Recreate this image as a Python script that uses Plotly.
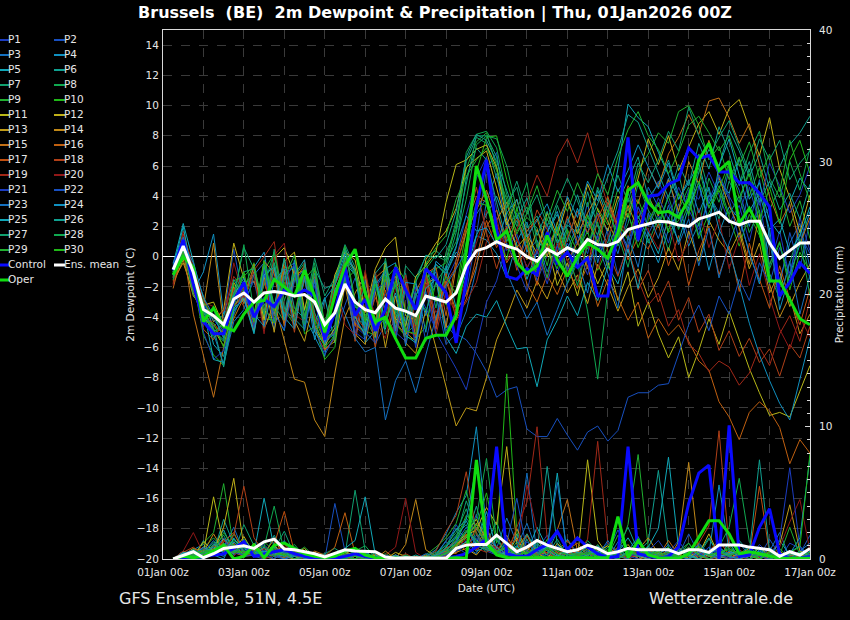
import pandas as pd
import plotly.graph_objects as go

# 6-hourly steps, 01Jan 06z .. 17Jan 00z
times = pd.date_range("2026-01-01 06:00", periods=64, freq="6h")

# ---- 2m dewpoint (deg C) ----
control_dew = [-0.9, 1.1, -1.8, -4.3, -5.1, -5.1, -2.9, -1.7,
               -4.0, -2.8, -3.3, -2.2, -2.6, -2.2, -2.6, -5.5,
               -3.7, -0.7, -3.9, -2.8, -4.9, -3.5, -0.7, -2.2,
               -3.5, -0.8, -1.5, -2.4, -5.7, -1.5, 3.3, 6.4,
               1.8, -1.3, -1.5, -0.8, -1.2, 1.6, -0.4, 0.3,
               -0.7, -0.1, -2.6, -2.6, 2.0, 7.9, 1.1, 4.0,
               4.1, 4.8, 5.1, 7.2, 6.5, 6.7, 5.6, 5.6,
               4.9, 4.9, 4.2, 3.3, -2.6, -1.7, -0.4, -1.1]
oper_dew = [-1.2, 0.0, -0.7, -4.3, -3.4, -4.6, -4.9, -3.8,
            -3.0, -2.9, -1.5, -2.0, -2.6, -0.9, -2.6, -5.0,
            -2.6, -0.6, 0.5, -2.4, -4.3, -4.0, -5.4, -6.7,
            -6.7, -5.4, -5.2, -5.2, -3.9, 0.3, 6.0, 3.8,
            1.1, 1.7, -0.4, -1.1, -0.6, 1.4, -0.2, -1.3,
            0.0, 0.9, 0.5, -0.1, 1.6, 4.4, 4.9, 3.6,
            2.9, 3.0, 2.6, 3.8, 6.4, 7.5, 5.7, 6.3,
            2.2, 3.2, 1.9, -1.6, -1.6, -2.8, -4.1, -4.5]
mean_dew = [-0.85, 0.7, -1.05, -3.5, -3.9, -4.5, -2.8, -2.4,
            -3.0, -2.4, -2.3, -2.4, -2.6, -2.5, -3.0, -4.5,
            -3.7, -1.8, -3.0, -3.5, -3.7, -2.8, -3.4, -3.6,
            -3.9, -2.6, -2.8, -3.0, -2.4, -0.6, 0.4, 0.6,
            1.0, 0.7, 0.5, 0.0, -0.3, 0.5, 0.15, 0.6,
            0.3, 1.15, 0.8, 0.75, 1.0, 1.8, 2.0, 2.2,
            2.35, 2.3, 2.1, 2.0, 2.5, 2.7, 2.95, 2.35,
            2.1, 2.35, 2.35, 0.9, -0.1, 0.4, 0.9, 0.9]

p1_dew = [-1.0, 1.2, -1.5, -4.2, -3.5, -5.1, -3.0, -2.1,
          -4.4, -1.2, -3.6, -0.9, -4.0, -1.5, -4.6, -5.6,
          -2.4, -0.3, -4.6, -5.2, -2.1, -1.0, -5.0, -5.6,
          -2.0, -3.4, -4.8, -1.6, -0.2, 2.8, 5.2, 6.6,
          3.1, 0.4, 1.5, -0.8, 0.6, 2.2, -1.1, 0.9,
          -0.5, 2.4, 1.1, -0.6, 3.0, 4.2, 2.6, 3.5,
          5.0, 3.6, 1.9, 4.4, 3.8, 5.6, 4.1, 2.2,
          3.4, 1.0, 3.9, -0.6, 1.7, -1.4, 2.6, 0.4]
p2_dew = [-0.6, 0.3, -1.9, -3.0, -4.6, -4.0, 0.5, -3.0,
          -1.6, -4.5, -0.8, -3.9, -1.0, -4.6, -1.5, -6.3,
          -5.3, -3.2, -1.4, -2.0, -5.8, -4.4, -1.5, -2.1,
          -5.8, -2.0, -1.0, -4.9, -3.6, -2.4, 1.4, 5.8,
          6.9, 2.7, -0.5, 1.2, -1.6, 0.1, 1.8, -0.9,
          1.4, 0.2, 2.9, 1.6, -1.2, 0.8, 3.3, 1.5,
          2.8, 0.9, 3.5, 1.2, 4.7, 2.4, 5.3, 3.8,
          1.1, 4.6, 2.2, 3.3, -2.0, 1.6, -0.8, 2.4]
p3_dew = [-1.4, 0.6, -0.8, -3.9, -5.0, -4.4, -3.6, -1.6,
          -1.7, -3.1, -4.8, -0.9, -0.4, -4.2, -1.6, -5.1,
          -2.2, -3.8, -5.4, -1.5, -4.6, -0.6, -5.5, -2.0,
          -4.8, -0.8, -1.3, -4.5, -5.3, -3.6, -0.8, 3.7,
          5.5, 1.8, 2.9, 0.3, 1.1, -1.0, 0.7, 2.5,
          0.8, 3.6, -0.4, 1.9, 0.2, 2.8, 1.0, 4.6,
          3.3, 5.2, 2.6, 3.9, 1.4, 4.1, 2.9, 5.8,
          4.4, 2.0, 5.1, 1.3, -1.6, 0.9, 2.2, -0.7]
p4_dew = [-1.2, 1.0, -2.3, -1.0, 1.5, -3.8, -1.5, -2.6,
          -0.7, 0.3, -3.7, -4.9, -0.2, -3.9, -5.3, -6.6,
          -1.8, 0.6, -1.0, -5.7, -4.9, -0.8, -0.4, -4.6,
          -1.6, -5.0, -0.5, -1.1, 0.3, -0.4, 1.4, 1.1,
          0.2, -1.4, 1.0, 2.3, -0.6, 1.7, 3.0, 0.5,
          2.1, -0.8, 1.5, 3.4, 2.0, 0.6, 2.7, 1.2,
          -0.4, 1.8, 3.0, 0.7, 2.2, -0.9, 1.6, 3.3,
          2.5, 0.3, -1.8, 1.9, -3.5, -1.2, 0.8, 3.0]
p5_dew = [-0.5, 2.2, -0.3, -3.1, -5.8, -6.6, -3.4, -2.8,
          -5.1, -1.5, -0.4, -4.0, -4.8, -0.8, -4.4, -2.7,
          -5.7, -0.4, -1.2, -5.1, -1.6, -4.8, -0.9, -5.9,
          -2.6, -1.2, -4.2, -0.6, -3.4, -1.0, 1.4, 2.8,
          4.0, 2.2, 0.8, -1.5, 0.4, 1.6, 2.8, 1.0,
          3.2, 1.5, 4.4, 2.6, 5.8, 10.1, 9.2, 8.6,
          6.9, 5.4, 3.8, 4.9, 6.2, 3.5, 5.0, 4.2,
          6.5, 3.8, 4.9, 2.4, 1.5, 3.6, 5.2, 4.3]
p6_dew = [-0.8, 0.9, -1.0, -2.6, -4.9, -5.6, -2.3, -1.8,
          -1.2, -4.7, -3.4, -0.1, -4.1, -4.8, -0.8, -2.1,
          -1.8, -0.2, -4.0, -4.5, -1.3, -5.1, -4.2, -1.1,
          -5.4, -1.6, -0.5, -1.2, 0.6, 5.2, 7.2, 6.4,
          3.6, 1.0, 2.4, 0.5, -0.9, 1.3, -0.2, 2.1,
          1.6, 4.3, 2.0, 0.9, 3.6, 5.1, 6.6, 3.9,
          4.8, 6.4, 4.1, 2.9, 5.6, 7.1, 6.0, 8.4,
          7.0, 5.3, 6.8, 4.5, 6.0, 7.4, 8.2, 9.3]
p7_dew = [-1.3, 0.2, -1.8, -3.6, -4.1, -3.9, -2.5, 0.6,
          -0.8, -4.0, 0.5, -3.8, -0.6, -3.6, -0.1, -2.6,
          -1.4, 0.8, -0.7, -4.0, -5.4, -1.2, -4.7, -0.6,
          -1.4, 0.0, 0.4, -0.2, 2.4, 6.3, 7.9, 7.5,
          5.2, 3.5, 4.6, 1.9, 2.7, 0.8, 3.4, 1.6,
          -0.6, 2.8, 1.4, 3.9, 0.7, 2.2, 4.8, 3.1,
          1.9, 4.0, 5.5, 2.7, 6.8, 4.3, 2.5, 5.0,
          3.6, 5.8, 2.9, -1.1, -2.8, -0.4, 1.8, -1.5]
p8_dew = [-1.1, 0.5, -0.6, -3.3, -5.4, -4.8, -1.9, -2.4,
          -4.1, -0.2, -3.2, -4.3, -1.3, -0.4, -4.1, -5.6,
          -4.8, 0.4, -1.1, -4.6, -4.4, -0.1, -3.8, -5.1,
          -4.5, -0.3, -3.4, 0.3, 1.8, 6.9, 8.1, 8.3,
          7.2, 4.1, 2.0, 3.3, 0.6, 2.5, 1.2, -1.8,
          -0.4, -3.6, -8.1, -2.2, 1.5, -0.7, 2.4, 0.9,
          2.6, 0.4, 3.1, 4.6, 2.0, 5.2, 3.6, 6.1,
          4.8, 6.9, 8.3, 5.2, 3.9, 6.3, 4.4, 7.2]
p9_dew = [-0.9, 0.8, -1.3, -4.4, -3.8, -5.3, -2.7, -1.1,
          -4.4, -0.9, 0.2, -3.5, -4.5, -1.5, -0.7, -5.3,
          -5.1, -0.8, -4.1, -1.0, -4.8, -4.1, -0.5, -1.6,
          -4.3, -1.4, -0.8, -0.4, 2.1, 5.8, 7.6, 8.2,
          6.0, 3.0, 1.7, 2.6, 1.9, -0.6, 2.3, 0.2,
          1.8, 0.5, 3.2, 2.1, 4.5, 3.0, 5.7, 6.8,
          8.2, 7.5, 9.6, 10.0, 8.7, 6.4, 7.3, 5.1,
          6.6, 4.0, 5.9, 3.1, 4.6, 2.0, 3.7, 1.2]
p10_dew = [-1.5, 0.1, -1.6, -5.2, -6.5, -7.2, -3.9, -2.2,
           -0.4, -4.1, -4.2, -0.7, -0.8, -5.1, -4.6, -6.8,
           -6.0, -1.3, -4.5, -4.9, -5.2, -1.3, -4.4, -5.3,
           -5.5, -4.6, -1.7, -3.2, -2.2, 1.8, 5.6, 7.9,
           8.0, 5.1, 2.6, 0.9, -1.3, 0.4, -0.8, 1.8,
           0.3, 1.7, -0.9, 0.6, 2.3, 1.1, 3.8, 2.0,
           3.5, 1.6, 2.4, 3.8, 1.2, 2.9, 4.4, 2.6,
           0.7, 2.8, 1.4, -0.5, 1.0, -2.2, 0.3, -1.0]
p11_dew = [-0.7, 0.4, -2.0, -3.2, -3.0, -4.6, -1.7, -2.9,
           -1.0, -4.2, -0.1, 0.6, -1.2, -0.9, -4.7, -5.9,
           -4.7, -0.1, -0.8, -4.1, -4.5, -0.4, -4.1, -4.6,
           -1.3, -0.6, 0.3, 3.6, 6.1, 6.4, 7.1, 7.4,
           5.9, 2.4, 0.6, 1.4, -0.7, 0.9, -1.9, -0.4,
           -2.6, 0.1, -1.8, -0.3, -2.9, -1.0, -4.6, -3.0,
           -5.1, -6.7, -5.3, -8.0, -6.2, -4.1, -5.8, -3.6,
           -5.5, -7.4, -9.0, -10.5, -10.3, -10.6, -8.9, -7.2]
p12_dew = [-1.0, 0.0, -1.1, -2.8, -4.3, -3.5, 0.9, -1.5,
           -3.8, -0.7, -3.9, -0.3, 0.3, -3.5, -0.9, -4.8,
           -1.2, 0.3, -0.2, -3.7, -0.8, 0.6, 1.3, -3.9,
           -4.2, -0.2, 0.9, 1.7, 3.2, 5.9, 6.5, 7.0,
           4.6, 2.1, 3.8, 1.5, 0.2, 2.9, 1.4, 3.6,
           2.0, 4.8, 3.1, 1.7, 4.0, 2.6, 5.2, 7.8,
           6.1, 8.0, 5.7, 7.2, 8.8, 9.6, 8.1, 9.8,
           10.4, 8.5, 6.7, 9.2, 5.8, 3.9, 1.6, 4.1]
p13_dew = [-1.6, -0.4, -2.4, -4.0, -4.8, -5.9, -3.2, -2.5,
           -4.9, -1.3, -5.0, -0.9, -4.2, -5.6, -2.7, -6.1,
           -5.6, -1.9, -5.1, -5.8, -2.3, -6.0, -2.6, -5.7,
           -6.4, -3.5, -6.0, -8.6, -11.2, -10.0, -10.2, -8.0,
           -5.5, -4.0, -2.2, -3.4, -1.6, -2.8, -0.9, -2.4,
           -1.2, -3.1, -0.5, -1.9, -3.6, -2.0, -0.8, -2.7,
           -1.4, 0.6, -0.9, 1.7, -0.3, 2.4, 1.1, 0.2,
           1.6, -0.8, 0.9, -2.4, -1.0, -3.3, -1.7, -0.5]
p14_dew = [-1.8, -0.2, -2.6, -3.4, 0.9, -4.5, -2.0, -3.1,
           -0.5, -4.8, -3.0, -5.5, -8.1, -8.3, -10.8, -11.9,
           -7.7, -4.0, -2.4, -1.2, -5.3, -1.8, -1.3, -5.0,
           -5.6, -1.8, -1.4, -4.7, -0.6, 1.6, 3.1, 4.4,
           2.4, 3.6, 1.1, -0.2, 1.8, 0.0, 2.2, 3.9,
           1.5, 2.9, 4.1, 2.3, 0.9, 3.4, 1.8, 4.0,
           2.7, 5.1, 3.0, 6.3, 4.8, 7.7, 5.2, 3.4,
           1.9, -0.5, 2.8, -1.8, -4.0, -2.6, -5.1, -3.8]
p15_dew = [-2.1, 0.5, -3.8, -6.5, -9.3, -6.0, -4.1, -2.7,
           -4.3, -0.3, -1.1, -4.6, -1.5, -0.6, -4.5, -5.8,
           -1.8, -0.5, -4.4, -5.1, -1.4, -0.8, -4.3, -5.2,
           -2.3, -1.0, -4.3, -1.6, -3.6, -2.5, -0.6, 2.0,
           3.1, 0.8, -0.6, 1.7, 2.5, 0.4, 1.9, -0.3,
           0.9, 2.3, 1.0, 3.6, 2.1, 4.7, 3.5, 5.9,
           4.6, 6.8, 7.9, 9.4, 8.1, 10.3, 10.5, 9.2,
           7.5, 8.8, 6.1, 4.0, 2.2, 3.5, 0.8, 2.6]
p16_dew = [-1.7, 0.3, -2.2, -3.7, -4.6, -5.0, -2.9, -2.0,
           -1.6, -3.6, -0.7, -4.4, -0.9, -4.2, -1.3, -5.5,
           -5.0, -1.7, -4.6, -1.1, -4.3, -1.5, -4.8, -1.7,
           -4.6, -1.1, -0.7, -3.9, -0.2, 2.1, 4.0, 3.6,
           1.9, -0.4, 0.7, -1.8, -3.0, -1.2, -2.5, -0.8,
           -2.1, -0.6, -3.3, -1.5, -2.7, -4.2, -3.0, -5.4,
           -4.1, -5.2, -4.5, -5.6, -6.9, -7.5, -9.6, -10.6,
           -12.1, -10.3, -9.6, -10.2, -11.3, -13.7, -12.1, -13.0]
p17_dew = [-1.2, 0.8, -1.7, -4.8, -5.5, -4.2, -3.3, -2.6,
           -4.8, -1.7, -3.6, -0.6, -4.6, -1.4, -4.9, -6.2,
           -5.4, -0.7, -5.6, -2.3, -6.0, -2.2, -5.2, -2.1,
           -5.3, -1.7, -4.8, -1.1, -4.2, -2.8, 0.0, 2.4,
           0.6, 2.0, -0.9, 0.8, -1.9, 1.5, 0.3, 2.7,
           1.0, -0.7, 2.5, 4.0, 1.8, -0.2, 1.3, 0.5,
           2.2, -0.6, 1.4, -1.9, 0.4, 2.0, -1.2, 0.7,
           -2.3, 0.9, -1.5, -3.4, -0.6, -2.8, -4.5, -2.1]
p18_dew = [-1.4, 1.5, -1.2, -3.9, -4.4, -5.2, -2.1, -3.3,
           -4.5, -1.5, -4.3, -1.3, -5.0, -1.0, -4.0, -5.4,
           -2.2, -0.9, -3.9, -4.8, -2.7, -4.3, -1.6, -4.9,
           -5.2, -0.9, -4.5, -1.7, -0.7, 1.9, 4.6, 1.6,
           -0.8, 1.3, 2.6, 0.9, 3.1, 1.8, -0.5, 1.2,
           3.0, 1.6, 2.8, 0.4, -1.3, 0.8, -2.2, -0.9,
           -3.0, -1.6, -4.2, -2.7, -5.0, -3.8, -6.2, -4.9,
           -6.6, -5.4, -7.0, -6.1, -7.9, -5.8, -6.7, -4.6]
p19_dew = [-1.3, 1.7, -0.9, -2.9, -4.0, -3.6, -1.3, -2.2,
           -0.9, 0.0, 1.0, -3.6, -4.1, -0.3, -3.8, -4.9,
           -1.9, -0.3, -3.7, -4.2, -1.0, -3.8, -5.1, -1.2,
           -4.4, -1.3, -5.2, -2.2, -3.9, -3.0, -1.7, 1.0,
           2.2, 0.5, 1.8, 3.6, 5.4, 4.0, 6.6, 7.8,
           6.2, 8.2, 5.6, 3.4, 1.9, 0.4, -1.5, -3.2,
           -2.4, -4.6, -3.5, -5.8, -6.4, -7.6, -6.9, -7.3,
           -8.5, -7.7, -6.0, -7.2, -5.1, -3.9, -5.6, -2.8]
p20_dew = [-1.9, 1.4, -0.5, -3.0, -3.3, -4.7, -0.4, -2.8,
           -1.1, -5.1, 0.1, 0.9, -3.8, -4.3, -1.0, -4.6,
           -1.6, -4.5, -5.2, -0.9, -4.2, -5.4, -2.1, -1.4,
           -4.9, -1.8, -3.7, -2.6, -3.5, -1.4, 0.9, 3.0,
           2.6, -0.3, 1.2, -0.7, 0.5, -1.5, 1.0, -0.2,
           -1.6, 0.9, -0.8, 1.3, 2.9, 1.2, 3.0, 1.8,
           0.5, 2.4, -0.3, 1.0, 3.2, 0.6, 2.5, -0.8,
           1.3, -1.9, 0.2, -2.7, -4.8, -6.1, -4.0, -5.3]
p21_dew = [-0.9, 1.1, -1.4, -5.0, -6.8, -6.2, -3.8, -2.3,
           -4.2, -0.8, -4.5, -1.5, -0.5, -4.4, -1.9, -5.7,
           -4.9, -1.0, -5.0, -5.5, -2.2, -1.7, -5.3, -2.3,
           -6.0, -2.3, -5.0, -6.2, -7.4, -8.8, -6.0, -3.0,
           -1.6, 0.9, -0.6, -2.3, 0.4, -1.8, 0.7, -0.9,
           0.5, -1.2, 1.4, -0.4, 2.2, 0.3, 3.3, 2.0,
           3.9, 2.5, 4.6, 3.1, 1.8, 3.7, 5.4, 4.0,
           2.8, 5.0, 3.4, 6.2, 4.7, 2.9, 4.1, 6.0]
p22_dew = [-1.1, 0.7, -2.1, -3.3, -4.2, -4.9, -3.1, -1.9,
           -4.7, -1.1, -3.8, -4.8, -1.6, -0.8, -4.7, -6.5,
           -5.2, -1.4, -4.3, -5.0, -5.7, -2.5, -1.8, -5.8,
           -2.3, -5.6, -2.6, -5.8, -5.1, -5.5, -6.4, -7.6,
           -9.3, -8.8, -8.6, -11.4, -11.9, -11.9, -10.7, -11.8,
           -12.8, -11.6, -11.2, -12.2, -11.5, -9.3, -9.0, -9.0,
           -8.5, -8.4, -6.4, -4.5, -3.2, -4.9, -2.6, -3.8,
           -1.5, -2.9, -0.4, -1.8, 0.6, -1.1, 1.5, 0.2]
p23_dew = [-0.4, 1.3, -1.0, -3.5, -5.1, -7.1, -4.3, -3.5,
           -1.2, -0.4, -4.4, -1.1, -0.7, -4.9, -1.5, -5.6,
           -5.1, -1.2, -5.4, -6.3, -6.0, -10.8, -8.2, -6.9,
           -9.0, -6.5, -4.0, -1.9, -0.8, 0.4, 2.8, 3.9,
           1.4, -1.0, -2.6, -4.1, -3.0, -5.2, -3.5, -1.7,
           -0.2, -2.4, 0.9, -1.1, -3.4, 1.4, -0.7, 2.9,
           1.2, 3.4, 0.8, 2.5, -0.6, 1.9, -1.4, 0.9,
           2.7, 0.2, -1.6, 1.1, -2.9, -0.3, -3.8, -1.2]
p24_dew = [-1.2, 0.9, -0.4, -2.7, -3.9, -5.4, -2.6, -1.4,
           -3.8, -4.6, -1.6, -0.8, -4.7, -1.3, -5.5, -2.8,
           -1.9, 0.2, -1.0, -4.9, -1.9, -0.9, -4.9, -1.7,
           -1.8, -3.9, -0.3, -0.9, 0.7, 2.7, 1.7, 1.9,
           0.8, 2.9, 3.8, 1.3, 2.4, 3.5, 1.6, 4.0,
           2.6, 5.0, 3.7, 6.1, 4.3, 5.7, 7.4, 6.0,
           4.5, 6.2, 3.8, 5.1, 2.9, 4.6, 1.8, 0.4,
           -1.9, -4.4, -6.5, -8.2, -9.7, -10.8, -8.0, -5.4]
p25_dew = [-0.8, 2.0, -1.6, -3.4, -6.8, -7.0, -3.6, -2.7,
           -5.0, -1.2, -0.7, -4.2, -1.2, -0.2, -5.0, -5.8,
           -2.2, -0.7, -4.0, -5.2, -1.4, -4.4, -2.4, -5.2,
           -5.7, -2.1, -1.5, -5.3, -6.4, -4.6, -3.8, -4.0,
           -2.9, -4.6, -6.1, -6.0, -8.6, -5.5, -4.2, -2.6,
           -3.9, -1.7, -2.9, -0.6, -1.8, 0.5, -2.1, 1.6,
           0.2, 2.6, 1.0, 3.3, 4.9, 2.1, 6.0, 7.8,
           5.4, 3.0, 4.2, 1.8, 2.5, 0.3, 1.4, 3.3]
p26_dew = [-1.0, 1.0, -1.2, -3.7, -4.7, -7.3, -3.0, -1.7,
           -4.1, -0.6, -3.3, -0.1, -3.4, -4.1, -1.1, -4.7,
           -1.5, 0.5, -3.2, -4.4, -1.1, -0.3, -3.6, -4.3,
           -1.7, 0.1, -0.1, 0.8, 3.0, 6.6, 8.1, 7.7,
           6.3, 4.4, 2.5, 3.9, 1.4, 3.0, 0.9, 2.2,
           4.1, 2.0, 3.5, 5.3, 7.0, 9.4, 8.9, 7.2,
           5.5, 3.9, 6.1, 4.7, 7.5, 5.8, 8.6, 6.9,
           4.7, 6.3, 3.6, 5.0, 3.1, 4.2, 2.5, 4.8]
p27_dew = [-1.3, 0.6, -1.9, -4.1, -5.2, -4.3, -2.4, -1.0,
           -0.8, -3.8, -0.4, -3.4, -4.2, -0.5, -3.7, -5.4,
           -4.5, 0.0, -1.2, -4.2, -1.5, -3.5, -1.9, -5.0,
           -2.4, -3.6, -1.7, -0.7, 1.6, 4.8, 8.0, 8.0,
           6.6, 3.2, 5.0, 2.8, 4.1, 2.0, 3.6, 5.2,
           3.7, 1.9, 4.6, 3.0, 5.4, 3.6, 6.2, 4.9,
           6.4, 8.3, 7.0, 9.9, 8.0, 6.6, 7.9, 9.0,
           7.3, 5.6, 7.8, 6.4, 7.7, 5.1, 6.2, 7.0]
p28_dew = [-1.5, 0.4, -2.5, -3.6, -4.9, -5.5, -2.8, 0.8,
           -3.7, -1.9, 0.3, -2.9, -1.1, -4.5, -0.4, -4.8,
           -5.5, -0.6, -3.4, -2.1, -4.7, -0.7, -3.7, -2.2,
           -4.5, -0.8, 0.1, -0.3, 1.0, 3.8, 7.4, 8.0,
           7.8, 6.0, 3.1, 4.9, 0.9, -1.4, 1.7, 0.5,
           -1.9, 0.8, 2.3, -0.8, 1.0, 3.9, 2.5, 4.1,
           2.2, 4.0, 1.8, 3.5, 5.9, 3.2, 4.7, 2.8,
           4.0, 1.6, 3.1, -0.8, 0.9, -1.7, 1.2, -2.6]
p29_dew = [-1.0, 0.2, -1.4, -3.0, -4.0, -4.8, -1.6, -1.3,
           -0.6, -3.4, -4.4, -1.4, 0.1, -4.0, -0.8, -4.4,
           -1.7, 0.7, -2.9, -3.8, -5.0, -1.5, -0.7, -3.8,
           -1.6, -0.5, 0.6, 1.4, 3.8, 5.3, 6.4, 7.2,
           5.7, 3.8, 1.5, 2.9, 4.7, 2.4, 4.4, 3.0,
           4.9, 3.3, 5.5, 4.1, 6.6, 8.4, 9.6, 8.0,
           7.1, 5.5, 6.9, 8.7, 9.3, 8.2, 7.0, 8.0,
           6.0, 7.6, 5.2, 6.8, 4.3, 7.7, 5.5, 3.7]
p30_dew = [-1.2, 0.7, -0.9, -4.3, -4.4, -6.0, -3.3, -1.0,
           -4.3, -0.3, -3.6, -1.7, -3.8, -0.9, -4.3, -6.0,
           -5.2, -1.6, -0.9, -4.3, -1.8, -4.7, -1.6, -4.9,
           -5.1, -1.0, -3.0, -1.3, -2.5, 1.0, 3.6, 3.4,
           1.6, -0.2, 3.2, 1.1, -1.1, 0.6, 2.0, -1.3,
           0.2, 2.7, 0.8, 3.1, 1.5, 2.9, 0.6, 2.4,
           3.6, 1.7, 4.2, 2.8, 5.0, 3.3, 4.5, 6.2,
           3.9, 5.5, 2.3, 4.6, 2.2, 6.4, 7.7, 5.5]

# ---- 6-hourly precipitation (mm) ----
control_pcp = [0.0, 0.05, 0.05, 0.2, 0.3, 0.4, 0.8, 1.3,
               0.2, 0.4, 0.55, 0.7, 0.4, 0.2, 0.05, 0.0,
               0.05, 0.2, 0.4, 0.2, 0.05, 0.0, 0.0, 0.0,
               0.0, 0.0, 0.0, 0.05, 0.2, 0.4, 0.9, 1.5,
               8.5, 0.4, 0.2, 0.2, 0.7, 1.1, 2.1, 0.7,
               1.6, 0.9, 0.4, 0.1, 0.2, 8.5, 0.4, 0.2,
               0.05, 0.2, 0.9, 4.2, 6.5, 7.1, 0.0, 10.1,
               0.2, 0.3, 2.4, 3.8, 0.4, 0.05, 0.05, 0.2]
oper_pcp = [0.0, 0.2, 0.1, 0.2, 0.6, 1.05, 0.0, 0.2,
            1.05, 0.1, 1.05, 1.2, 0.8, 0.4, 0.2, 0.1,
            0.2, 0.6, 0.8, 0.3, 0.1, 0.05, 0.0, 0.0,
            0.0, 0.05, 0.0, 0.05, 0.1, 0.05, 7.5, 1.2,
            0.3, 0.1, 0.1, 0.05, 0.1, 0.05, 0.1, 0.05,
            0.05, 0.1, 0.05, 0.1, 3.2, 0.1, 1.4, 0.3,
            0.1, 0.05, 0.05, 0.4, 1.7, 2.9, 2.9, 1.9,
            0.4, 0.55, 0.4, 0.2, 0.05, 0.05, 0.05, 0.05]
mean_pcp = [0.0, 0.3, 0.55, 0.1, 0.4, 0.8, 0.9, 1.0,
            0.8, 1.3, 1.5, 0.75, 0.7, 0.55, 0.4, 0.15,
            0.4, 0.7, 0.6, 0.55, 0.55, 0.15, 0.05, 0.1,
            0.1, 0.1, 0.1, 0.05, 0.8, 1.05, 1.1, 1.1,
            1.8, 1.2, 0.55, 0.9, 1.4, 1.05, 0.8, 0.55,
            0.7, 1.05, 0.8, 0.4, 0.55, 0.8, 0.7, 0.7,
            0.7, 0.7, 0.4, 0.7, 0.7, 0.5, 1.05, 1.05,
            1.05, 0.9, 0.8, 0.7, 0.2, 0.55, 0.3, 0.8]

p1_pcp = [0.0, 0.3, 0.1, 0.6, 1.2, 0.4, 0.9, 0.2,
          0.5, 1.1, 0.3, 0.0, 0.4, 0.2, 0.0, 0.0,
          0.1, 0.3, 0.0, 0.0, 0.2, 0.0, 0.0, 0.1,
          0.0, 0.0, 0.4, 1.3, 0.8, 2.1, 1.5, 0.6,
          0.3, 1.0, 0.4, 0.0, 0.7, 1.8, 0.5, 0.0,
          0.2, 0.0, 0.6, 1.2, 0.3, 0.0, 0.4, 0.9,
          0.0, 0.5, 1.4, 0.2, 0.0, 0.3, 0.8, 0.1,
          0.4, 0.0, 1.1, 0.3, 0.0, 1.2, 0.8, 0.2]
p2_pcp = [0.0, 0.1, 0.4, 0.2, 0.8, 1.5, 0.3, 0.7,
          0.2, 0.0, 0.9, 0.4, 0.0, 0.1, 0.3, 0.0,
          4.2, 0.6, 0.0, 0.2, 0.0, 0.0, 0.3, 0.0,
          0.0, 0.1, 0.0, 0.9, 2.6, 1.2, 3.4, 0.8,
          1.5, 0.4, 0.0, 0.2, 1.1, 0.3, 0.0, 0.6,
          0.0, 0.3, 0.0, 0.5, 2.2, 0.7, 0.0, 0.2,
          0.6, 0.0, 0.3, 1.9, 0.4, 0.0, 0.2, 0.0,
          0.0, 0.7, 0.2, 1.5, 0.3, 0.0, 0.4, 1.8]
p3_pcp = [0.0, 0.5, 0.2, 0.0, 0.6, 0.9, 2.4, 0.5,
          0.3, 0.6, 0.0, 1.4, 0.2, 0.0, 0.0, 0.3,
          0.0, 0.0, 0.8, 0.1, 0.0, 0.0, 0.0, 0.2,
          0.0, 0.3, 0.0, 0.5, 1.7, 0.9, 0.4, 2.3,
          0.8, 3.1, 1.2, 6.5, 0.3, 0.0, 0.9, 0.4,
          0.0, 0.6, 0.2, 0.0, 1.3, 0.5, 0.0, 0.8,
          0.3, 1.1, 0.0, 0.4, 0.0, 0.9, 0.2, 0.0,
          1.2, 0.3, 0.0, 0.6, 2.0, 0.1, 0.0, 0.5]
p4_pcp = [0.0, 0.2, 0.7, 1.1, 0.3, 0.0, 1.6, 0.4,
          0.9, 0.2, 0.5, 0.0, 0.3, 0.6, 0.1, 0.0,
          0.0, 0.2, 0.0, 0.5, 0.0, 0.1, 0.0, 0.0,
          0.0, 0.2, 0.7, 1.9, 3.5, 4.8, 10.0, 2.2,
          0.6, 1.4, 0.2, 0.0, 0.8, 0.3, 0.0, 1.5,
          0.4, 0.0, 0.9, 0.3, 0.0, 0.6, 1.7, 0.2,
          0.0, 0.8, 0.3, 0.0, 1.2, 0.4, 5.6, 0.6,
          0.2, 0.0, 0.7, 0.3, 0.0, 0.5, 1.0, 0.0]
p5_pcp = [0.0, 0.6, 0.3, 0.2, 1.0, 2.2, 0.5, 1.3,
          0.4, 4.6, 0.8, 0.2, 0.0, 0.5, 0.3, 0.0,
          0.2, 0.0, 0.4, 0.0, 0.0, 0.3, 0.0, 0.0,
          0.1, 0.0, 0.3, 0.6, 1.4, 2.9, 1.1, 3.6,
          0.7, 0.2, 1.9, 0.5, 2.4, 0.8, 6.5, 0.0,
          0.3, 1.0, 0.0, 0.4, 3.0, 0.6, 0.2, 0.0,
          0.5, 0.0, 0.9, 0.3, 0.0, 0.4, 0.0, 1.3,
          0.0, 0.6, 0.2, 0.0, 1.4, 0.3, 0.0, 0.6]
p6_pcp = [0.0, 0.4, 0.0, 1.4, 0.5, 3.0, 1.1, 0.3,
          0.6, 0.2, 1.8, 0.5, 0.0, 0.3, 0.0, 0.2,
          0.0, 0.5, 0.2, 0.0, 0.3, 0.0, 0.0, 0.0,
          0.0, 0.0, 0.2, 0.8, 2.3, 1.6, 4.0, 1.2,
          2.8, 0.6, 0.3, 1.5, 0.0, 0.4, 2.1, 0.7,
          0.2, 0.0, 0.5, 0.0, 0.9, 2.4, 0.6, 1.3,
          6.7, 0.8, 0.0, 0.3, 0.5, 1.6, 0.2, 0.0,
          0.4, 0.9, 0.3, 0.0, 0.2, 0.0, 0.6, 0.3]
p7_pcp = [0.0, 0.2, 0.5, 0.3, 0.9, 1.8, 0.4, 2.6,
          1.0, 0.4, 0.7, 2.1, 0.3, 0.0, 0.2, 0.4,
          0.8, 0.3, 5.2, 0.6, 0.0, 0.2, 0.0, 0.0,
          0.0, 0.1, 0.0, 0.5, 1.2, 3.1, 2.0, 0.9,
          0.4, 1.3, 0.0, 0.6, 0.2, 1.0, 0.3, 0.0,
          0.5, 0.2, 0.0, 1.1, 0.6, 0.0, 0.3, 0.7,
          0.0, 0.4, 0.9, 0.0, 0.3, 1.5, 0.6, 0.2,
          0.0, 0.3, 0.0, 0.8, 0.2, 0.0, 0.4, 0.0]
p8_pcp = [0.0, 0.3, 0.2, 0.8, 1.6, 0.7, 1.9, 0.6,
          0.2, 0.9, 4.0, 0.5, 1.1, 0.2, 0.0, 0.3,
          0.0, 0.2, 0.6, 1.0, 0.1, 0.0, 0.2, 0.0,
          0.0, 0.0, 0.3, 1.1, 2.0, 3.8, 1.3, 0.5,
          1.7, 0.3, 0.6, 0.0, 1.2, 0.4, 0.9, 0.2,
          0.0, 1.4, 0.5, 0.0, 0.3, 0.9, 0.2, 0.6,
          0.3, 0.0, 0.6, 1.2, 0.0, 0.4, 0.9, 2.4,
          6.1, 1.3, 0.4, 0.0, 0.5, 0.2, 0.0, 0.3]
p9_pcp = [0.0, 0.5, 0.3, 1.2, 2.0, 5.7, 0.8, 0.4,
          0.3, 1.3, 0.6, 0.0, 0.4, 0.9, 0.2, 0.0,
          0.0, 0.4, 0.0, 0.3, 0.0, 0.0, 0.1, 0.0,
          0.0, 0.3, 0.9, 1.6, 2.7, 5.2, 1.8, 0.7,
          0.5, 1.0, 0.2, 0.8, 0.0, 1.5, 0.4, 0.0,
          0.6, 0.2, 1.1, 0.0, 0.4, 2.6, 7.9, 0.9,
          0.2, 0.0, 0.5, 0.3, 1.0, 0.0, 0.6, 0.2,
          0.0, 0.4, 0.0, 0.3, 0.8, 0.0, 0.2, 0.0]
p10_pcp = [0.0, 0.2, 0.6, 0.4, 1.1, 0.6, 1.4, 0.9,
           0.5, 0.0, 0.8, 0.3, 0.2, 0.0, 0.4, 0.0,
           0.3, 0.0, 0.2, 0.0, 0.0, 0.4, 0.0, 0.0,
           0.0, 0.0, 0.2, 0.6, 1.5, 3.3, 2.5, 5.0,
           1.2, 14.0, 2.0, 0.5, 0.9, 0.0, 0.3, 0.6,
           0.0, 0.4, 0.8, 0.2, 0.0, 0.5, 1.3, 0.3,
           0.4, 0.9, 0.0, 0.2, 0.6, 0.0, 0.3, 1.0,
           0.2, 0.0, 0.5, 0.0, 0.3, 0.1, 0.0, 0.4]
p11_pcp = [0.0, 0.3, 0.8, 0.5, 4.7, 1.0, 0.6, 1.7,
           0.4, 0.2, 0.0, 0.6, 0.3, 0.8, 0.0, 0.2,
           0.0, 0.5, 0.0, 0.2, 0.0, 0.0, 0.3, 0.0,
           0.0, 0.2, 0.0, 0.4, 1.0, 2.0, 3.0, 1.4,
           0.6, 0.3, 1.6, 0.2, 0.5, 0.0, 1.2, 0.4,
           0.0, 7.5, 1.4, 0.3, 0.0, 0.6, 0.2, 0.0,
           0.5, 0.0, 0.2, 0.8, 0.0, 0.3, 0.0, 0.6,
           0.3, 0.0, 0.9, 0.2, 0.0, 0.4, 0.0, 0.2]
p12_pcp = [0.0, 0.4, 0.2, 1.3, 0.6, 2.4, 6.1, 0.9,
           0.6, 0.2, 1.0, 0.4, 0.0, 0.2, 0.5, 0.0,
           0.2, 0.0, 0.3, 0.0, 0.0, 0.0, 0.5, 0.2,
           0.0, 0.0, 0.1, 0.3, 0.9, 1.8, 2.2, 3.9,
           2.6, 8.5, 1.1, 0.4, 0.0, 0.7, 0.2, 0.9,
           0.3, 0.0, 0.6, 1.0, 0.2, 0.0, 0.5, 0.4,
           0.0, 0.3, 0.7, 0.0, 0.4, 1.9, 0.3, 0.0,
           0.5, 0.2, 0.0, 0.6, 0.0, 0.3, 0.2, 0.0]
p13_pcp = [0.0, 0.1, 0.4, 0.9, 0.3, 1.5, 0.7, 0.2,
           1.2, 0.3, 0.5, 0.0, 0.6, 0.2, 0.0, 0.1,
           0.0, 0.6, 0.2, 0.0, 0.3, 0.0, 0.0, 0.0,
           0.1, 0.0, 0.0, 0.2, 0.5, 0.8, 0.3, 1.2,
           0.9, 0.4, 2.3, 0.6, 1.5, 0.3, 0.0, 0.5,
           0.2, 0.8, 0.0, 0.4, 0.3, 1.1, 0.0, 0.2,
           0.6, 0.0, 0.3, 0.0, 0.9, 0.2, 0.4, 0.0,
           0.3, 0.8, 0.0, 0.5, 1.1, 4.1, 0.6, 0.2]
p14_pcp = [0.0, 0.3, 0.0, 0.5, 1.9, 0.6, 1.2, 0.3,
           0.7, 0.4, 1.5, 0.2, 0.0, 0.3, 0.2, 0.0,
           0.0, 0.1, 0.0, 0.4, 0.0, 0.6, 0.0, 1.1,
           4.5, 0.7, 0.2, 0.5, 1.1, 1.6, 2.7, 0.9,
           0.4, 1.8, 0.3, 0.0, 0.6, 1.2, 0.5, 0.0,
           0.0, 0.3, 0.9, 0.2, 0.5, 0.0, 0.7, 1.6,
           0.4, 0.0, 1.3, 7.3, 0.6, 0.2, 0.0, 0.5,
           0.0, 0.4, 0.2, 0.0, 0.6, 0.0, 0.3, 0.1]
p15_pcp = [0.0, 0.6, 0.3, 0.2, 0.8, 1.1, 0.5, 0.2,
           0.3, 0.8, 0.2, 0.9, 0.4, 0.0, 0.6, 0.3,
           0.0, 0.2, 0.0, 0.0, 0.4, 0.0, 0.2, 0.0,
           0.0, 0.3, 0.0, 0.2, 0.7, 1.3, 0.9, 2.4,
           0.5, 0.2, 0.8, 1.9, 0.4, 0.9, 2.2, 4.5,
           0.6, 0.2, 0.0, 0.5, 0.3, 0.9, 0.0, 0.4,
           0.2, 1.4, 0.3, 0.0, 0.6, 0.0, 0.2, 0.5,
           0.0, 0.2, 0.5, 0.0, 0.3, 0.6, 0.0, 0.2]
p16_pcp = [0.0, 0.2, 0.5, 0.3, 0.6, 0.9, 0.4, 1.0,
           0.2, 0.5, 0.3, 0.1, 0.8, 0.4, 0.0, 0.2,
           0.9, 3.5, 0.4, 0.0, 0.2, 0.0, 0.1, 0.0,
           0.2, 0.0, 0.3, 0.6, 0.4, 1.9, 0.7, 1.5,
           0.3, 0.6, 0.0, 0.9, 0.3, 0.5, 0.0, 0.7,
           1.2, 0.3, 0.5, 0.0, 0.2, 0.4, 0.9, 0.0,
           0.3, 0.6, 0.0, 0.5, 0.2, 0.0, 0.4, 0.3,
           0.0, 0.3, 0.1, 0.6, 0.2, 0.5, 0.0, 0.3]
p17_pcp = [0.0, 0.4, 0.2, 0.7, 0.4, 1.3, 2.0, 0.5,
           0.8, 0.3, 1.1, 3.6, 0.5, 0.2, 0.0, 0.3,
           0.0, 0.2, 0.5, 0.0, 0.0, 0.3, 0.0, 0.1,
           0.0, 0.0, 0.4, 0.8, 1.3, 0.6, 2.4, 1.0,
           0.6, 0.9, 0.3, 1.8, 0.2, 0.0, 0.6, 1.4,
           0.3, 0.0, 0.7, 0.2, 0.5, 0.0, 0.3, 0.8,
           0.0, 0.5, 0.2, 0.9, 0.0, 0.6, 1.4, 0.3,
           0.7, 0.2, 5.5, 0.4, 0.0, 0.2, 0.5, 0.0]
p18_pcp = [0.0, 0.5, 0.9, 0.3, 1.0, 0.6, 1.8, 5.5,
           1.6, 0.5, 0.2, 0.8, 0.3, 0.0, 0.2, 0.0,
           0.0, 0.3, 0.0, 0.2, 0.0, 0.0, 0.0, 0.4,
           0.0, 0.1, 0.6, 2.1, 3.3, 6.6, 1.9, 0.7,
           0.4, 0.9, 1.5, 0.6, 0.3, 1.1, 0.0, 0.5,
           0.2, 0.6, 0.0, 0.3, 0.9, 0.0, 0.4, 0.2,
           0.5, 0.0, 0.3, 0.6, 1.2, 2.5, 9.7, 0.8,
           0.3, 0.0, 0.4, 0.2, 0.0, 0.5, 0.2, 0.0]
p19_pcp = [0.0, 0.3, 0.6, 0.2, 0.5, 1.4, 0.8, 0.3,
           0.4, 0.2, 0.6, 1.1, 0.3, 0.0, 0.5, 0.0,
           0.2, 0.0, 0.0, 0.3, 0.0, 0.2, 0.0, 0.0,
           0.0, 0.2, 0.0, 0.4, 0.6, 1.2, 0.8, 0.5,
           1.0, 0.3, 2.4, 4.3, 10.0, 1.6, 0.4, 0.8,
           0.3, 1.5, 8.9, 1.2, 0.4, 0.0, 0.6, 0.2,
           0.0, 0.4, 0.9, 0.2, 0.0, 0.5, 0.3, 0.0,
           0.2, 0.0, 0.3, 0.6, 0.0, 0.2, 0.0, 0.4]
p20_pcp = [0.0, 0.6, 2.0, 0.4, 0.3, 0.8, 0.2, 1.2,
           0.5, 0.0, 0.3, 0.2, 0.6, 0.4, 0.0, 0.2,
           0.0, 0.4, 0.0, 0.2, 0.0, 0.3, 0.9, 4.6,
           0.5, 0.0, 0.2, 0.3, 0.8, 1.5, 0.6, 1.9,
           0.7, 1.6, 0.4, 5.6, 2.1, 0.3, 0.9, 0.0,
           0.4, 0.2, 0.0, 0.6, 0.3, 0.0, 0.5, 0.9,
           0.2, 0.5, 0.0, 0.3, 0.7, 0.0, 0.4, 0.2,
           0.0, 0.6, 0.2, 0.0, 0.9, 2.8, 4.5, 0.6]
p21_pcp = [0.0, 0.2, 0.4, 0.8, 0.3, 1.0, 0.5, 0.3,
           0.6, 0.3, 0.0, 0.5, 0.2, 0.4, 0.0, 0.0,
           0.0, 0.0, 0.3, 0.0, 0.2, 0.0, 0.0, 0.0,
           0.0, 0.0, 0.2, 0.5, 0.9, 0.4, 1.6, 0.8,
           0.3, 0.7, 0.0, 1.3, 0.5, 0.2, 1.0, 0.4,
           0.0, 0.5, 0.3, 0.0, 0.8, 0.2, 0.0, 0.6,
           1.4, 0.3, 0.0, 0.6, 0.2, 0.9, 0.4, 0.0,
           0.3, 0.0, 0.6, 0.2, 1.5, 6.9, 0.9, 0.3]
p22_pcp = [0.0, 0.3, 0.1, 0.5, 1.4, 0.4, 0.9, 0.2,
           0.3, 0.7, 0.2, 0.0, 0.5, 0.0, 0.3, 0.0,
           0.0, 0.2, 0.0, 0.0, 0.0, 0.3, 0.0, 0.0,
           0.0, 0.2, 0.0, 0.3, 0.6, 1.0, 1.8, 0.9,
           0.4, 1.2, 4.6, 0.6, 0.2, 1.1, 0.3, 0.0,
           0.2, 0.0, 0.5, 0.3, 0.0, 0.4, 0.2, 0.6,
           0.0, 0.3, 0.2, 0.0, 0.5, 0.0, 0.3, 0.2,
           0.0, 0.5, 0.2, 0.0, 0.3, 0.0, 0.4, 0.2]
p23_pcp = [0.0, 0.4, 0.7, 0.2, 0.6, 1.6, 0.5, 0.9,
           0.2, 0.5, 0.4, 0.0, 0.2, 0.6, 0.0, 0.3,
           0.0, 0.3, 0.0, 0.5, 0.0, 0.0, 0.2, 0.0,
           0.0, 0.4, 0.2, 0.7, 1.3, 2.4, 0.9, 1.5,
           0.6, 0.2, 0.9, 2.7, 0.5, 0.8, 5.8, 0.4,
           0.0, 0.6, 0.2, 1.4, 0.3, 0.0, 0.9, 0.5,
           0.3, 0.0, 0.6, 0.2, 1.1, 0.4, 0.0, 0.6,
           0.2, 0.4, 0.0, 0.9, 0.2, 0.0, 0.6, 1.2]
p24_pcp = [0.0, 0.2, 0.3, 0.9, 0.5, 0.2, 1.3, 0.6,
           0.4, 0.9, 0.3, 0.6, 0.0, 0.2, 0.4, 0.0,
           0.2, 0.0, 0.4, 0.0, 0.0, 0.0, 0.3, 0.0,
           0.0, 0.0, 0.3, 1.4, 2.2, 3.0, 7.0, 1.6,
           0.9, 0.3, 0.5, 0.0, 1.4, 0.6, 0.2, 0.7,
           0.5, 0.2, 1.0, 0.4, 0.0, 0.6, 0.3, 0.0,
           0.4, 0.8, 0.2, 0.0, 0.6, 0.3, 0.9, 0.2,
           0.0, 0.3, 0.6, 0.2, 0.0, 0.4, 1.6, 7.7]
p25_pcp = [0.0, 0.5, 0.2, 0.4, 0.9, 0.5, 1.5, 0.8,
           0.3, 0.6, 0.4, 0.2, 0.9, 0.0, 0.2, 0.3,
           0.0, 0.8, 1.4, 4.7, 0.3, 0.0, 0.2, 0.0,
           0.0, 0.0, 0.1, 0.4, 0.8, 1.3, 0.6, 0.9,
           0.3, 0.5, 1.0, 0.2, 0.6, 0.9, 0.3, 0.2,
           0.0, 0.3, 0.6, 0.2, 0.5, 1.6, 0.4, 0.9,
           2.3, 7.7, 0.8, 0.3, 0.0, 0.5, 0.2, 0.4,
           0.6, 0.0, 0.3, 0.2, 0.0, 0.5, 0.2, 0.0]
p26_pcp = [0.0, 0.3, 0.5, 0.2, 1.1, 0.7, 0.4, 1.5,
           0.6, 0.2, 0.9, 0.4, 0.2, 0.3, 0.0, 0.0,
           0.0, 0.2, 0.0, 0.6, 0.0, 0.2, 0.0, 0.0,
           0.3, 0.0, 0.2, 0.9, 1.8, 2.6, 1.0, 0.7,
           0.5, 0.8, 0.3, 1.9, 0.6, 7.0, 1.1, 0.3,
           0.4, 0.9, 0.2, 0.0, 0.6, 0.3, 1.2, 0.5,
           0.0, 0.4, 0.7, 0.2, 0.0, 0.6, 0.9, 0.3,
           1.4, 0.5, 7.5, 0.6, 0.0, 0.3, 0.4, 0.2]
p27_pcp = [0.0, 0.4, 0.2, 0.6, 0.4, 1.2, 0.6, 0.9,
           0.4, 0.3, 0.6, 0.2, 0.4, 0.1, 0.0, 0.2,
           0.0, 0.0, 0.3, 0.0, 0.5, 0.0, 0.0, 0.2,
           0.0, 0.2, 0.5, 1.0, 1.6, 4.4, 2.3, 1.1,
           0.6, 0.2, 1.3, 0.4, 0.8, 0.3, 1.5, 0.2,
           0.3, 0.7, 0.0, 0.9, 0.2, 0.5, 0.3, 1.0,
           0.2, 0.6, 0.0, 0.4, 0.8, 0.2, 0.6, 0.3,
           0.5, 0.2, 0.9, 0.0, 0.3, 0.6, 0.2, 0.0]
p28_pcp = [0.0, 0.2, 0.7, 0.4, 1.3, 0.8, 0.6, 0.4,
           0.8, 0.4, 0.2, 0.7, 0.3, 0.5, 0.2, 0.0,
           0.3, 0.0, 0.6, 0.2, 0.0, 0.0, 0.0, 0.3,
           0.0, 0.0, 0.4, 0.7, 1.2, 2.0, 3.1, 7.6,
           1.4, 0.5, 0.9, 0.2, 0.4, 0.7, 0.0, 0.6,
           0.2, 0.4, 0.9, 0.5, 0.3, 0.7, 0.2, 0.4,
           0.6, 0.2, 0.4, 0.9, 0.3, 0.0, 0.5, 0.8,
           0.3, 0.6, 0.0, 0.4, 0.2, 0.0, 0.5, 0.3]
p29_pcp = [0.0, 0.3, 0.4, 0.7, 0.5, 2.0, 0.9, 0.3,
           0.5, 1.0, 0.3, 0.4, 0.0, 0.2, 0.3, 0.0,
           0.0, 0.4, 0.2, 0.0, 0.0, 0.2, 0.0, 0.0,
           0.0, 0.2, 0.0, 0.5, 1.1, 2.2, 1.4, 0.8,
           0.5, 0.2, 0.7, 0.4, 0.2, 0.9, 0.6, 0.3,
           0.4, 0.3, 0.5, 0.2, 1.8, 0.6, 0.3, 0.8,
           0.3, 0.5, 0.2, 1.2, 0.3, 0.0, 0.5, 0.2,
           0.6, 0.0, 0.3, 0.5, 0.3, 2.4, 0.3, 0.5]
p30_pcp = [0.0, 0.2, 0.3, 0.5, 0.7, 0.9, 0.5, 0.6,
           0.4, 0.2, 0.5, 0.3, 0.6, 0.2, 0.1, 0.0,
           0.0, 0.2, 0.0, 0.3, 0.0, 0.0, 0.2, 0.0,
           0.0, 0.0, 0.2, 0.4, 0.9, 1.7, 2.6, 1.2,
           0.6, 0.9, 0.3, 0.5, 0.2, 0.8, 0.4, 0.0,
           0.3, 0.5, 0.2, 0.7, 0.0, 0.4, 0.6, 0.3,
           0.5, 0.0, 0.3, 0.6, 0.9, 0.3, 0.5, 0.7,
           0.4, 0.3, 0.0, 0.6, 0.2, 0.5, 0.9, 8.0]

member_dew = [p1_dew, p2_dew, p3_dew, p4_dew, p5_dew, p6_dew, p7_dew, p8_dew, p9_dew, p10_dew,
              p11_dew, p12_dew, p13_dew, p14_dew, p15_dew, p16_dew, p17_dew, p18_dew, p19_dew, p20_dew,
              p21_dew, p22_dew, p23_dew, p24_dew, p25_dew, p26_dew, p27_dew, p28_dew, p29_dew, p30_dew]
member_pcp = [p1_pcp, p2_pcp, p3_pcp, p4_pcp, p5_pcp, p6_pcp, p7_pcp, p8_pcp, p9_pcp, p10_pcp,
              p11_pcp, p12_pcp, p13_pcp, p14_pcp, p15_pcp, p16_pcp, p17_pcp, p18_pcp, p19_pcp, p20_pcp,
              p21_pcp, p22_pcp, p23_pcp, p24_pcp, p25_pcp, p26_pcp, p27_pcp, p28_pcp, p29_pcp, p30_pcp]

# colour ramp repeats after P20
palette = ["#1c3cc0", "#1850c0", "#1470c0", "#1090c0", "#10a8b8", "#10a090", "#10a070",
           "#10a850", "#20b030", "#20b818", "#b8b818", "#c0b018", "#c09c18", "#c08818",
           "#c07018", "#c06010", "#c05010", "#b04018", "#a02818", "#901818"]
member_colors = palette + palette[:10]
member_names = ["P%d" % (k + 1) for k in range(30)]

CONTROL = "#0a0aff"
OPER = "#10dd10"
MEAN = "#ffffff"
TXT = "#e6e6e6"
FONT = "DejaVu Sans"

fig = go.Figure()

for k in range(30):
    fig.add_trace(go.Scatter(x=times, y=member_pcp[k], yaxis="y2", mode="lines",
                             line=dict(color=member_colors[k], width=1),
                             showlegend=False, hoverinfo="skip"))
for k in range(30):
    fig.add_trace(go.Scatter(x=times, y=member_dew[k], mode="lines",
                             line=dict(color=member_colors[k], width=1),
                             showlegend=False, hoverinfo="skip"))

for ys, ax in [(control_pcp, "y2"), (control_dew, "y")]:
    fig.add_trace(go.Scatter(x=times, y=ys, yaxis=ax, mode="lines",
                             line=dict(color=CONTROL, width=3), showlegend=False))
for ys, ax in [(oper_pcp, "y2"), (oper_dew, "y")]:
    fig.add_trace(go.Scatter(x=times, y=ys, yaxis=ax, mode="lines",
                             line=dict(color=OPER, width=3), showlegend=False))
for ys, ax in [(mean_pcp, "y2"), (mean_dew, "y")]:
    fig.add_trace(go.Scatter(x=times, y=ys, yaxis=ax, mode="lines",
                             line=dict(color=MEAN, width=3), showlegend=False))

# plot area in pixels: x 163..810, y 30..559
L, R, T, B = 163, 810, 30, 559


def px(xp):
    return (xp - L) / (R - L)


def py(yp):
    return (B - yp) / (B - T)


# hand-made two-column legend
col1 = [(member_names[k], member_colors[k], 2) for k in range(0, 30, 2)]
col1 += [("Control", CONTROL, 3), ("Oper", OPER, 3)]
col2 = [(member_names[k], member_colors[k], 2) for k in range(1, 30, 2)]
col2 += [("Ens. mean", MEAN, 3)]

shapes = []
annos = []
for col, (x0, x1) in [(col1, (0, 9)), (col2, (54, 65))]:
    for row, (name, color, w) in enumerate(col):
        yy = 39 + 15 * row
        shapes.append(dict(type="line", xref="paper", yref="paper",
                           x0=px(x0), x1=px(x1), y0=py(yy + 1), y1=py(yy + 1),
                           line=dict(color=color, width=w)))
        annos.append(dict(text=name, xref="paper", yref="paper", x=px(x1 - 3), y=py(yy),
                          xanchor="left", yanchor="middle", showarrow=False,
                          font=dict(size=10.5, color=TXT, family=FONT)))

annos.append(dict(text="GFS Ensemble, 51N, 4.5E", xref="paper", yref="paper",
                  x=px(117), y=py(598), xanchor="left", yanchor="middle", showarrow=False,
                  font=dict(size=16, color=TXT, family=FONT)))
annos.append(dict(text="Wetterzentrale.de", xref="paper", yref="paper",
                  x=px(647), y=py(598), xanchor="left", yanchor="middle", showarrow=False,
                  font=dict(size=16, color=TXT, family=FONT)))

grid = "#3a3a3a"
fig.update_layout(
    width=850, height=620,
    margin=dict(l=L, r=850 - R, t=T, b=620 - B),
    paper_bgcolor="#000000", plot_bgcolor="#000000",
    font=dict(family=FONT, color=TXT, size=10.5),
    title=dict(text="<b>Brussels&nbsp; (BE)&nbsp; 2m Dewpoint &amp; Precipitation | Thu, 01Jan2026 00Z</b>",
               x=435 / 850, xanchor="center", y=1 - 12 / 620, yanchor="middle",
               font=dict(size=16, color="#ffffff", family=FONT)),
    showlegend=False,
    shapes=shapes,
    annotations=annos,
    xaxis=dict(range=["2026-01-01 00:00", "2026-01-17 00:00"], automargin=False,
               tickformat="%d%b %Hz", dtick=2 * 86400000, tick0="2026-01-01",
               showgrid=True, gridcolor=grid, griddash="dash", gridwidth=1,
               minor=dict(dtick=86400000, showgrid=True, gridcolor=grid, griddash="dash"),
               showline=True, linecolor="#d8d8d8", linewidth=1, mirror=True,
               ticks="", ticklabelstandoff=3, tickfont=dict(size=10.5, color=TXT),
               title=dict(text="Date (UTC)", font=dict(size=10.5, color=TXT), standoff=8),
               zeroline=False),
    yaxis=dict(range=[-20, 15], dtick=2, tick0=-20, automargin=False,
               showgrid=True, gridcolor=grid, griddash="dash", gridwidth=1,
               zeroline=True, zerolinecolor="#ffffff", zerolinewidth=1,
               showline=True, linecolor="#d8d8d8", linewidth=1,
               ticks="", ticklabelstandoff=1, tickfont=dict(size=10.5, color=TXT),
               title=dict(text="2m Dewpoint (°C)", font=dict(size=10.5, color=TXT), standoff=0)),
    yaxis2=dict(range=[0, 40], dtick=10, tick0=0, overlaying="y", side="right", automargin=False,
                showgrid=False, zeroline=False,
                showline=True, linecolor="#d8d8d8", linewidth=1,
                ticks="inside", ticklen=5, tickcolor="#d8d8d8",
                minor=dict(dtick=1, ticks="inside", ticklen=3, tickcolor="#d8d8d8"),
                ticklabelstandoff=6, tickfont=dict(size=10.5, color=TXT),
                title=dict(text="Precipitation (mm)", font=dict(size=10.5, color=TXT), standoff=4)),
)

# page body has a default 8px margin; remove it so the figure sits at the top-left
fig.write_html("out.html", config={"displayModeBar": False},
               post_script="document.body.style.margin='0';document.body.style.background='#000';")
